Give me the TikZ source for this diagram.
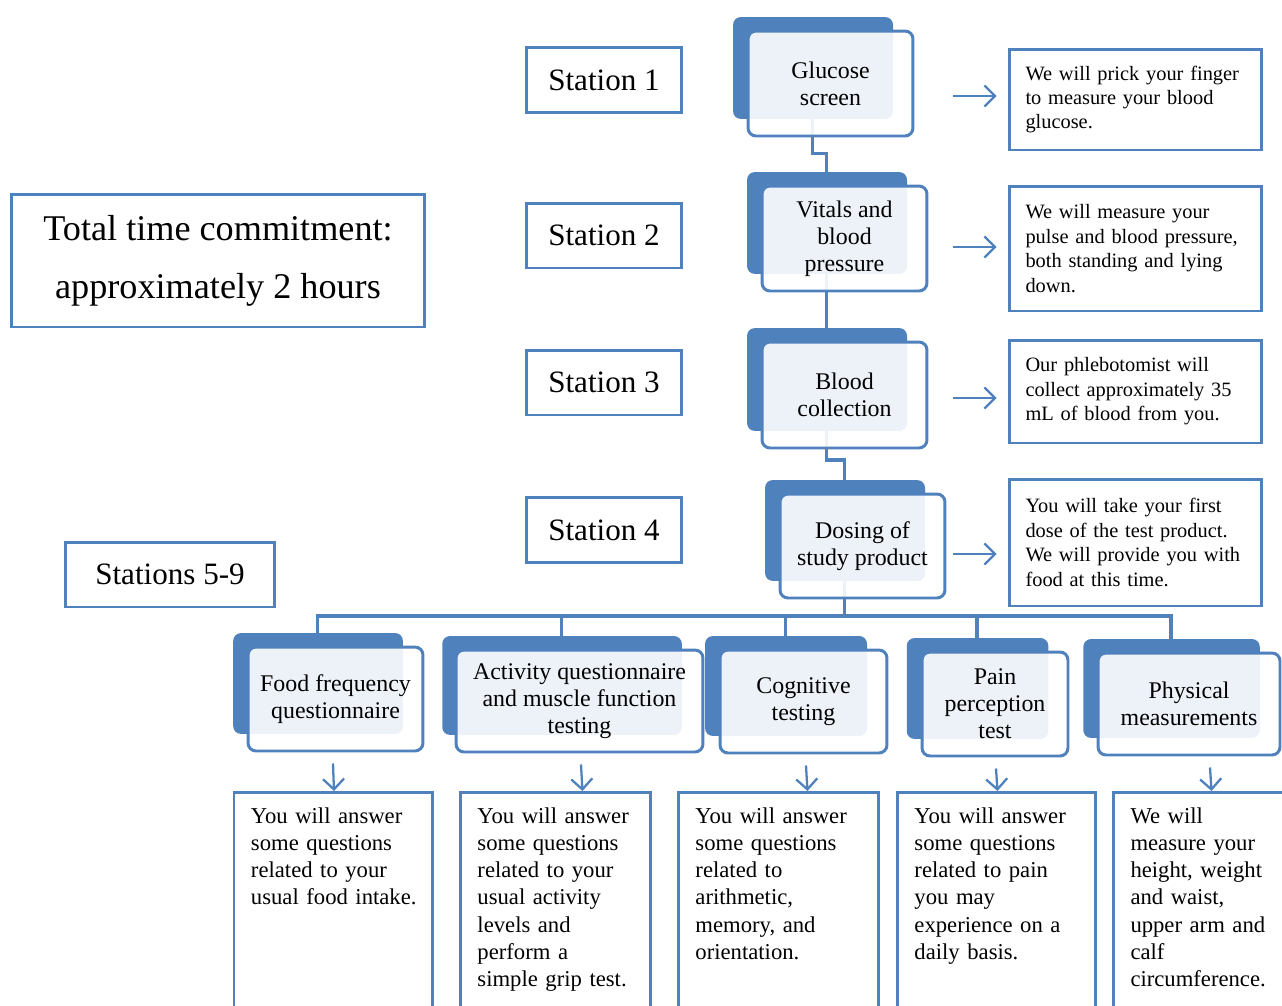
\documentclass[tikz,border=0pt]{standalone}
\usepackage{fontspec}
\setmainfont{Liberation Serif}
\usepackage{tikz}
\usetikzlibrary{arrows.meta,shadows,calc,backgrounds}
\definecolor{blueD}{RGB}{79,129,189}
\hyphenpenalty=10000
\exhyphenpenalty=10000

\begin{document}
\begin{tikzpicture}[x=0.02cm,y=-0.02cm,
  station/.style={draw=blueD,line width=1.7pt,minimum width=3.12cm,minimum height=1.3cm,font=\fontsize{17.7}{21}\selectfont},
  proc/.style={draw=blueD,line width=1.7pt,rounded corners=0.16cm,fill=white,fill opacity=0.9,text opacity=1,align=center,
    general shadow={fill=blueD,fill opacity=1,shadow scale=0.97,shadow xshift=-0.36cm,shadow yshift=0.32cm},
    font=\fontsize{13.6}{15.4}\selectfont},
  note/.style={draw=blueD,line width=1.7pt,align=left,text width=4.4cm,inner xsep=0.33cm,font=\fontsize{11.6}{13.9}\selectfont},
  low/.style={draw=blueD,line width=1.7pt,align=left,anchor=north west,inner xsep=0.34cm,inner ysep=0.3cm,text depth=4.6cm,font=\fontsize{12.9}{15.5}\selectfont},
  link/.style={draw=blueD,line width=1.8pt},
  arr/.style={draw=blueD,line width=1.3pt,-{Straight Barb[length=6pt,width=12pt]}}]
\useasboundingbox (0,0) rectangle (1282,1005);
\clip (0,0) rectangle (1282,1005);

\node[station,minimum width=8.28cm,minimum height=2.66cm,align=center,font=\fontsize{20.6}{33}\selectfont] (total) at (218,260.5) {Total time commitment:\\approximately 2 hours};
\node[station,minimum width=4.2cm] (st59) at (170,574.5) {Stations 5-9};

\node[station] (st1) at (604,80) {Station 1};
\node[station] (st2) at (604,235.5) {Station 2};
\node[station] (st3) at (604,382.5) {Station 3};
\node[station] (st4) at (604,530) {Station 4};

\node[proc,minimum width=3.3cm,minimum height=2.1cm] (gluc) at (830.5,83.5) {Glucose\\screen};
\node[proc,minimum width=3.3cm,minimum height=2.1cm] (vit) at (844.5,238.5) {Vitals and\\blood\\pressure};
\node[proc,minimum width=3.3cm,minimum height=2.12cm] (blood) at (844.5,395) {Blood\\collection};
\node[proc,minimum width=3.3cm,minimum height=2.08cm] (dose) at (862.5,546) {Dosing of\\study product};

\node[note,minimum height=2.02cm] (t1) at (1135.5,99.5) {We will prick your finger\\to measure your blood\\glucose.};
\node[note,minimum height=2.5cm] (t2) at (1135.5,248.5) {We will measure your\\pulse and blood pressure,\\both standing and lying\\down.};
\node[note,minimum height=2.06cm] (t3) at (1135.5,391.5) {Our phlebotomist will\\collect approximately 35\\mL of blood from you.};
\node[note,minimum height=2.54cm] (t4) at (1135.5,542.5) {You will take your first\\dose of the test product.\\We will provide you with\\food at this time.};

\node[proc,minimum width=3.5cm,minimum height=2.08cm] (food) at (335.5,699) {Food frequency\\questionnaire};
\node[proc,minimum width=4.94cm,minimum height=2.04cm] (act) at (579.5,701) {Activity questionnaire\\and muscle function\\testing};
\node[proc,minimum width=3.34cm,minimum height=2.06cm] (cog) at (803.5,701.5) {Cognitive\\testing};
\node[proc,minimum width=2.92cm,minimum height=2.08cm] (pain) at (995,704) {Pain\\perception\\test};
\node[proc,minimum width=3.64cm,minimum height=2.04cm] (phys) at (1189,704) {Physical\\measurements};

\node[low,text width=3.3cm] (tfood) at (232.5,791) {You will answer\\some questions\\related to your\\\mbox{usual food intake.}};
\node[low,text width=3.12cm] (tact) at (459,791) {You will answer\\some questions\\related to your\\usual activity\\levels and\\perform a\\simple grip test.};
\node[low,text width=3.32cm] (tcog) at (677,791) {You will answer\\some questions\\related to\\arithmetic,\\memory, and\\orientation.};
\node[low,text width=3.28cm] (tpain) at (896,791) {You will answer\\some questions\\related to pain\\you may\\experience on a\\daily basis.};
\node[low,text width=3.3cm] (tphys) at (1112,791) {We will\\measure your\\height, weight\\and waist,\\upper arm and\\calf\\circumference.};

\begin{scope}[on background layer]
\draw[link] ($(gluc)+(-18,-16)$) -- ++(0,86) -| ($(vit)+(-18,-16)$);
\draw[link] ($(vit)+(-18,-16)$) -- ($(blood)+(-18,-16)$);
\draw[link] ($(blood)+(-18,-16)$) -- ++(0,81) -| ($(dose)+(-18,-16)$);
% bus to stations 5-9
\draw[link] ($(dose)+(-18,-16)$) -- ++(0,86) -| ($(food)+(-18,-16)$);
\draw[link] ($(dose)+(-18,-16)$) -- ++(0,86) -| ($(act)+(-18,-16)$);
\draw[link] ($(dose)+(-18,-16)$) -- ++(0,86) -| ($(cog)+(-18,-16)$);
\draw[link] ($(dose)+(-18,-16)$) -- ++(0,86) -| ($(pain)+(-18,-16)$);
\draw[link] ($(dose)+(-18,-16)$) -- ++(0,86) -| ($(phys)+(-18,-16)$);
\end{scope}

\draw[arr] ($(t1.west)+(-55,-3.5)$) -- ($(t1.west)+(-11,-3.5)$);
\draw[arr] ($(t2.west)+(-55,-1.5)$) -- ($(t2.west)+(-11,-1.5)$);
\draw[arr] ($(t3.west)+(-55,6.5)$) -- ($(t3.west)+(-11,6.5)$);
\draw[arr] ($(t4.west)+(-55,11.5)$) -- ($(t4.west)+(-11,11.5)$);

\draw[arr] ($(food.south)+(-2.5,11)$) -- ($(tfood.north)+(0.5,0)$);
\draw[arr] ($(act.south)+(1.5,11)$) -- ($(tact.north)+(27,0)$);
\draw[arr] ($(cog.south)+(2.5,11)$) -- ($(tcog.north)+(29,0)$);
\draw[arr] ($(pain.south)+(1,11)$) -- ($(tpain.north)+(1,0)$);
\draw[arr] ($(phys.south)+(21,11)$) -- ($(tphys.north)+(-1.5,0)$);
\end{tikzpicture}
\end{document}
